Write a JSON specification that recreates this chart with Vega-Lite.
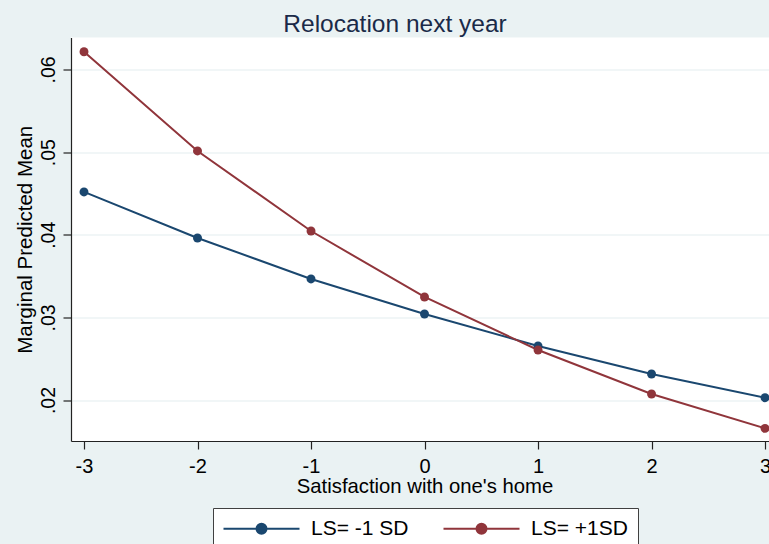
{
  "$schema": "https://vega.github.io/schema/vega-lite/v6.json",
  "autosize": {"type": "none"},
  "padding": {"left": 71, "top": 37.5, "right": 0, "bottom": 103},
  "width": 698,
  "height": 403.5,
  "background": "#EAF2F3",
  "view": {"fill": "white", "stroke": null},
  "title": {
    "text": "Relocation next year",
    "anchor": "middle",
    "baseline": "alphabetic",
    "offset": 8.5,
    "dx": -25,
    "dy": 27,
    "font": "Liberation Sans",
    "fontSize": 24.5,
    "fontWeight": "normal",
    "color": "#1a2a48"
  },
  "data": {
    "values": [
      {"x": -3, "y": 0.04518, "group": "LS= -1 SD"},
      {"x": -2, "y": 0.03961, "group": "LS= -1 SD"},
      {"x": -1, "y": 0.03465, "group": "LS= -1 SD"},
      {"x": 0, "y": 0.03041, "group": "LS= -1 SD"},
      {"x": 1, "y": 0.02654, "group": "LS= -1 SD"},
      {"x": 2, "y": 0.02315, "group": "LS= -1 SD"},
      {"x": 3, "y": 0.02028, "group": "LS= -1 SD"},
      {"x": -3, "y": 0.06215, "group": "LS= +1SD"},
      {"x": -2, "y": 0.05014, "group": "LS= +1SD"},
      {"x": -1, "y": 0.04045, "group": "LS= +1SD"},
      {"x": 0, "y": 0.03247, "group": "LS= +1SD"},
      {"x": 1, "y": 0.02605, "group": "LS= +1SD"},
      {"x": 2, "y": 0.02073, "group": "LS= +1SD"},
      {"x": 3, "y": 0.01657, "group": "LS= +1SD"}
    ]
  },
  "encoding": {
    "x": {
      "field": "x",
      "type": "quantitative",
      "scale": {"domain": [-3.1145, 3.035], "nice": false, "zero": false},
      "axis": {
        "values": [-3, -2, -1, 0, 1, 2, 3],
        "labelExpr": "datum.value < 0 ? '-' + abs(datum.value) : '' + datum.value",
        "grid": false,
        "title": "Satisfaction with one's home",
        "titleFont": "Liberation Sans",
        "titleFontSize": 20.3,
        "titleFontWeight": "normal",
        "titleColor": "#000000",
        "titleBaseline": "alphabetic",
        "titleAlign": "center",
        "titleX": 353.5,
        "titleY": 51,
        "labelFont": "Liberation Sans",
        "labelFontSize": 20,
        "labelColor": "#000000",
        "labelBaseline": "alphabetic",
        "labelPadding": 23,
        "labelFlush": false,
        "labelOverlap": false,
        "tickSize": 8,
        "tickColor": "#222222",
        "tickWidth": 1.2,
        "domainColor": "#222222",
        "domainWidth": 1.2
      }
    },
    "y": {
      "field": "y",
      "type": "quantitative",
      "scale": {"domain": [0.01504, 0.06387], "nice": false, "zero": false},
      "axis": {
        "values": [0.02, 0.03, 0.04, 0.05, 0.06],
        "labelExpr": "replace(format(datum.value, '.2f'), '0.', '.')",
        "grid": true,
        "gridColor": "#E3EEF0",
        "gridWidth": 1.2,
        "title": "Marginal Predicted Mean",
        "titleFont": "Liberation Sans",
        "titleFontSize": 20.5,
        "titleFontWeight": "normal",
        "titleColor": "#000000",
        "titleAngle": 270,
        "titleBaseline": "alphabetic",
        "titleAlign": "center",
        "titleX": -40,
        "titleY": 201.75,
        "labelFont": "Liberation Sans",
        "labelFontSize": 19.5,
        "labelColor": "#000000",
        "labelAngle": 270,
        "labelAlign": "center",
        "labelBaseline": "alphabetic",
        "labelPadding": 9,
        "labelFlush": false,
        "labelOverlap": false,
        "tickSize": 8,
        "tickColor": "#222222",
        "tickWidth": 1.2,
        "domainColor": "#222222",
        "domainWidth": 1.2
      }
    },
    "color": {
      "field": "group",
      "type": "nominal",
      "scale": {"domain": ["LS= -1 SD", "LS= +1SD"], "range": ["#1A476F", "#90353B"]},
      "legend": {
        "title": null,
        "orient": "none",
        "legendX": 142,
        "legendY": 470.5,
        "direction": "horizontal",
        "columns": 2,
        "padding": 10,
        "fillColor": "white",
        "strokeColor": "#404040",
        "symbolType": "M-7.6,0L7.6,0M-1,0A1,1 0 1,0 1,0A1,1 0 1,0 -1,0Z",
        "symbolSize": 100,
        "symbolStrokeWidth": 2,
        "symbolOffset": 28,
        "labelOffset": 39,
        "columnPadding": 30,
        "labelFont": "Liberation Sans",
        "labelFontSize": 21,
        "labelColor": "#000000",
        "labelBaseline": "middle",
        "encode": {
          "symbols": {
            "update": {
              "fill": {"scale": "color", "field": "value"},
              "stroke": {"scale": "color", "field": "value"},
              "opacity": {"value": 1},
              "strokeWidth": {"value": 2}
            }
          }
        }
      }
    }
  },
  "layer": [
    {"mark": {"type": "line", "strokeWidth": 2, "clip": true}},
    {"mark": {"type": "point", "filled": true, "size": 80, "opacity": 1, "clip": true}}
  ]
}
